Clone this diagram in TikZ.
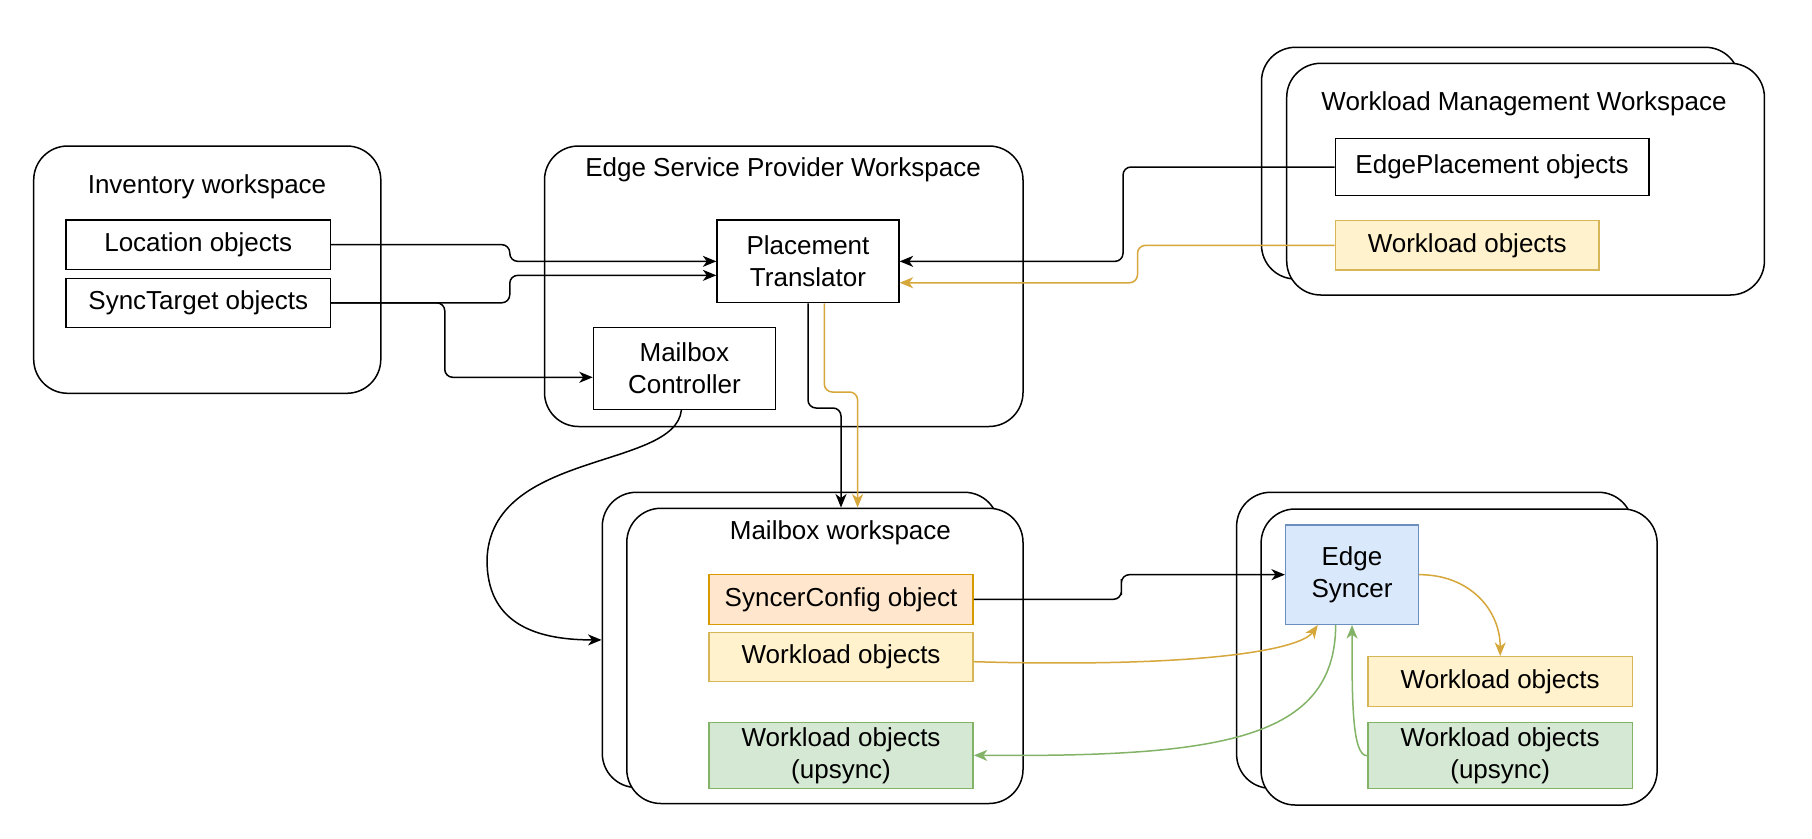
\documentclass[tikz,border=0pt]{standalone}
\usepackage{fontspec}
\setmainfont{Liberation Sans}
\usetikzlibrary{arrows.meta,calc}
\definecolor{goldline}{HTML}{D6A73A}
\definecolor{yfill}{HTML}{FFF2CC}
\definecolor{ystroke}{HTML}{D6B656}
\definecolor{ofill}{HTML}{FFE6CC}
\definecolor{ostroke}{HTML}{D79B00}
\definecolor{gfill}{HTML}{D5E8D4}
\definecolor{gstroke}{HTML}{82B366}
\definecolor{bfill}{HTML}{DAE8FC}
\definecolor{bstroke}{HTML}{6C8EBF}
\begin{document}
\begin{tikzpicture}[x=1pt,y=-1pt,
  font=\fontsize{26}{32}\selectfont,
  ws/.style={draw, line width=1.5pt, rounded corners=34pt, fill=white, inner sep=0pt},
  obj/.style={draw, line width=1.5pt, inner sep=0pt, align=center, fill=white},
  yobj/.style={obj, fill=yfill, draw=ystroke},
  oobj/.style={obj, fill=ofill, draw=ostroke},
  gobj/.style={obj, fill=gfill, draw=gstroke},
  bobj/.style={obj, fill=bfill, draw=bstroke},
  ttl/.style={inner sep=0pt},
  arr/.style={line width=1.5pt, -{Stealth[length=13.5pt,width=11pt,inset=4pt]}},
  jog/.style={arr, rounded corners=8pt},
  garr/.style={arr, draw=goldline},
  grarr/.style={arr, draw=gstroke},
]
\fill[white] (0,0) rectangle (1812,838);
\useasboundingbox (0,0) rectangle (1812,838);

% Inventory workspace
\node[ws, minimum width=347.1pt, minimum height=247.3pt] (inv) at (207.25,269.65) {};
\node[ttl] (invt) at (207,187) {Inventory workspace};
\node[obj, minimum width=264.1pt, minimum height=49.3pt] (loc) at (198.25,244.65) {Location objects};
\node[obj, minimum width=264.1pt, minimum height=49pt] (st) at (198.25,302.8) {SyncTarget objects};

% Edge Service Provider Workspace
\node[ws, minimum width=478.5pt, minimum height=280.5pt] (esp) at (783.75,286.25) {};
\node[ttl] (espt) at (783,169.3) {Edge Service Provider Workspace};
\node[obj, minimum width=181.8pt, minimum height=82.7pt] (pt) at (808,261.35) {Placement\\Translator};
\node[obj, minimum width=181.8pt, minimum height=82pt] (mc) at (684.4,368.3) {Mailbox\\Controller};

% Workload Management Workspace
\node[ws, minimum width=477.9pt, minimum height=231.7pt] (wmback) at (1500.45,163.15) {};
\node[ws, minimum width=477.7pt, minimum height=231.7pt] (wmfront) at (1525.55,179.15) {};
\node[ttl] (wmt) at (1524,104) {Workload Management Workspace};
\node[obj, minimum width=313.5pt, minimum height=57.4pt] (ep) at (1492.05,167) {EdgePlacement objects};
\node[yobj, minimum width=263.9pt, minimum height=49.3pt] (wlwm) at (1467.25,245.35) {Workload objects};

% Mailbox workspace
\node[ws, minimum width=396.2pt, minimum height=295.2pt] (mwback) at (800.4,639.9) {};
\node[ws, minimum width=396.2pt, minimum height=295.2pt] (mwfront) at (824.9,655.9) {};
\node[ttl] (mwt) at (840.4,532.7) {Mailbox workspace};
\node[oobj, minimum width=264.1pt, minimum height=50pt] (sc) at (841.05,599.3) {SyncerConfig object};
\node[yobj, minimum width=264.1pt, minimum height=49.4pt] (wlmw) at (841.05,657) {Workload objects};
\node[gobj, minimum width=264.1pt, minimum height=66pt] (upmw) at (841.05,755.3) {Workload objects\\(upsync)};

% Edge cluster
\node[ws, minimum width=396pt, minimum height=296pt] (sback) at (1434.6,640.3) {};
\node[ws, minimum width=396pt, minimum height=296pt] (sfront) at (1459.1,657) {};
\node[bobj, minimum width=132.6pt, minimum height=99.3pt] (es) at (1352,574.65) {Edge\\Syncer};
\node[yobj, minimum width=264.8pt, minimum height=50pt] (wls) at (1500.2,681.7) {Workload objects};
\node[gobj, minimum width=264.8pt, minimum height=66pt] (ups) at (1500.2,755.7) {Workload objects\\(upsync)};

% Connectors
\draw[jog] (loc.east) -- ++(178.7,0) |- (pt.west);
\draw[jog] (st.east) -- ++(178.7,0) |- ([yshift=-14pt]pt.west);
\draw[jog] (st.east) -- ++(113.7,0) |- ([yshift=-9pt]mc.west);
\draw[jog] (ep.west) -| (1123,210) |- (pt.east);
\draw[jog, draw=goldline] (wlwm.west) -| (1137.5,265) |- ([yshift=-21.4pt]pt.east);
\draw[jog] (pt.south) |- (825,408) -| ([xshift=16.1pt]mwfront.north);
\draw[jog, draw=goldline] ([xshift=16.3pt]pt.south) |- (840,392) -| ([xshift=32.7pt]mwfront.north);
\draw[arr] ([xshift=-3pt]mc.south) .. controls (675,470) and (490,450) .. (487,560)
  .. controls (487,620) and (530,640) .. (mwback.west);
\draw[jog] (sc.east) -| (1121.4,587) |- (es.west);
\draw[garr] (es.east) .. controls (1470,574.65) and (1500.2,610) .. (wls.north);
\draw[garr] ([yshift=-4.7pt]wlmw.east) .. controls (1200,668) and (1300,650) .. ([xshift=-34.2pt]es.south);
\draw[grarr] ([xshift=-16.3pt]es.south) .. controls (1335,740) and (1220,757) .. (upmw.east);
\draw[grarr] (ups.west) .. controls (1352,755.7) and (1352,700) .. (es.south);
\end{tikzpicture}
\end{document}
